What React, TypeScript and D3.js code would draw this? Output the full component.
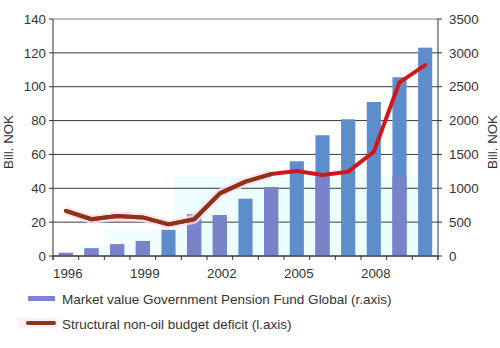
import React from "react";
import * as d3 from "d3";

const years = [1996, 1997, 1998, 1999, 2000, 2001, 2002, 2003, 2004, 2005, 2006, 2007, 2008, 2009, 2010];
const fundValues = [47, 113, 172, 222, 386, 613, 604, 846, 1016, 1399, 1784, 2019, 2275, 2640, 3077];
const deficitValues = [26.6, 21.7, 23.6, 22.8, 18.7, 21.7, 37.0, 43.9, 48.4, 50.2, 47.8, 49.8, 61.6, 102.6, 112.8];
const leftTicks = [0, 20, 40, 60, 80, 100, 120, 140];
const rightTicks = [0, 500, 1000, 1500, 2000, 2500, 3000, 3500];
const labelYears = [1996, 1999, 2002, 2005, 2008];
const tintedYears = [1996, 1997, 1998, 1999, 2001, 2002, 2004, 2006, 2009];
const legendItems = [
  "Market value Government Pension Fund Global (r.axis)",
  "Structural non-oil budget deficit (l.axis)",
];

const W = 500, H = 348;
const X0 = 53, X1 = 438, Y0 = 256, Y1 = 19;
const FONT = "Liberation Sans, Arial, sans-serif";

export default function App() {
  const x = d3.scaleBand<number>().domain(years).range([X0, X1]).padding(0);
  const yL = d3.scaleLinear().domain([0, 140]).range([Y0, Y1]);
  const yR = d3.scaleLinear().domain([0, 3500]).range([Y0, Y1]);
  const bw = x.bandwidth() * 0.55;
  const cx = (yr: number) => (x(yr) as number) + x.bandwidth() / 2;

  const line = d3
    .line<number>()
    .x((_, i) => cx(years[i]))
    .y((d) => yL(d))
    .curve(d3.curveLinear);
  const fullPath = line(deficitValues) || "";
  const earlyPath = line(deficitValues.slice(0, 9)) || "";

  const boundaries = years.map((yr) => x(yr) as number).concat([X1]);

  return (
    <svg width={W} height={H} style={{ position: "absolute", left: 0, top: 0, background: "#fff" }} fontFamily={FONT}>
      {/* faint background artifacts */}
      <rect x={x(2001)! - 8} y={yR(1170)} width={X1 - 20 - (x(2001)! - 8)} height={Y0 - yR(1170)} fill="#EDFDFE" />
      <rect x={x(1998)!} y={yR(400)} width={x(2001)! - 8 - x(1998)!} height={Y0 - yR(400)} fill="#F1FDFE" />
      <rect x={x(1997)!} y={yR(180)} width={x(1998)! - x(1997)!} height={Y0 - yR(180)} fill="#F3FEFE" />

      {/* gridlines */}
      {leftTicks.map((t) => (
        <line key={t} x1={X0} x2={X1} y1={yL(t)} y2={yL(t)} stroke={t === 140 ? "#7a7a7a" : "#3a3a3a"} strokeWidth={1} />
      ))}

      {/* bars */}
      {years.map((yr, i) => (
        <rect key={yr} x={cx(yr) - bw / 2} y={yR(fundValues[i])} width={bw} height={Y0 - yR(fundValues[i])} fill="#5E8DCB" />
      ))}
      {years.map((yr, i) =>
        tintedYears.includes(yr) ? (
          <rect
            key={"t" + yr}
            x={cx(yr) - bw / 2}
            y={yR(Math.min(fundValues[i], 1170))}
            width={bw}
            height={Y0 - yR(Math.min(fundValues[i], 1170))}
            fill="#7A82C8"
          />
        ) : null
      )}

      {/* axes */}
      <line x1={X0} x2={X0} y1={Y1} y2={Y0 + 4} stroke="#333" />
      <line x1={X1} x2={X1} y1={Y1} y2={Y0 + 4} stroke="#333" />
      <line x1={X0} x2={X1} y1={Y0} y2={Y0} stroke="#333" />
      {leftTicks.map((t) => (
        <g key={"l" + t}>
          <line x1={X0 - 4} x2={X0} y1={yL(t)} y2={yL(t)} stroke="#333" />
          <text x={46} y={yL(t)} dy="0.35em" textAnchor="end" fontSize={13.3} fill="#333">{t}</text>
        </g>
      ))}
      {rightTicks.map((t) => (
        <g key={"r" + t}>
          <line x1={X1} x2={X1 + 4} y1={yR(t)} y2={yR(t)} stroke="#333" />
          <text x={449} y={yR(t)} dy="0.35em" textAnchor="start" fontSize={13.3} fill="#333">{t}</text>
        </g>
      ))}
      {boundaries.map((b, i) => (
        <line key={"b" + i} x1={b} x2={b} y1={Y0} y2={Y0 + 4} stroke="#333" />
      ))}
      {labelYears.map((yr) => (
        <text key={"x" + yr} x={cx(yr) + 2} y={278} textAnchor="middle" fontSize={13.3} fill="#333">{yr}</text>
      ))}
      <text transform={`translate(13,142) rotate(-90)`} textAnchor="middle" fontSize={13.3} fill="#333">Bill. NOK</text>
      <text transform={`translate(497,142) rotate(-90)`} textAnchor="middle" fontSize={13.3} fill="#333">Bill. NOK</text>

      {/* line */}
      <path d={earlyPath} fill="none" stroke="#FCDDF5" strokeWidth={9} strokeLinejoin="round" opacity={0.8} />
      <path d={fullPath} fill="none" stroke="#D0181C" strokeWidth={4} strokeLinejoin="round" strokeLinecap="round" />
      <path d={earlyPath} fill="none" stroke="#8A3614" strokeWidth={4} strokeLinejoin="round" strokeLinecap="round" />

      {/* legend */}
      <rect x={28} y={296} width={27} height={5} fill="#7B84CC" />
      <text x={62} y={299} dy="0.35em" fontSize={13.5} fill="#333">{legendItems[0]}</text>
      <rect x={18} y={318} width={40} height={10} fill="#FDEEF9" />
      <line x1={28} x2={54} y1={323} y2={323} stroke="#8A3614" strokeWidth={4} strokeLinecap="round" />
      <text x={62} y={324} dy="0.35em" fontSize={13.5} fill="#333">{legendItems[1]}</text>
    </svg>
  );
}
